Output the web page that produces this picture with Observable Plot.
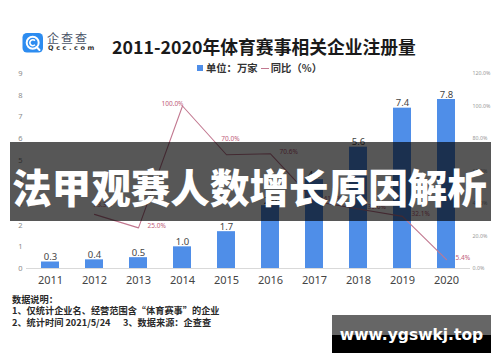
<!DOCTYPE html>
<html><head><meta charset="utf-8">
<script src="https://cdn.jsdelivr.net/npm/d3@7"></script>
<script src="https://cdn.jsdelivr.net/npm/@observablehq/plot@0.6"></script>
<style>
body{margin:0;background:#fff;}
#wrap{position:relative;width:500px;height:362px;overflow:hidden;font-family:"Noto Sans CJK SC","Noto Sans",sans-serif;background:#fff;}
#chart{position:absolute;left:0;top:0;}
.abs{position:absolute;white-space:nowrap;}
</style></head><body>
<div id="wrap">
  <div id="chart"></div>
  <!-- logo -->
  <svg class="abs" style="left:22px;top:33px" width="22" height="20" viewBox="0 0 22 20">
    <rect x="0.5" y="0" width="20.5" height="19.5" rx="4.5" fill="#2d8cf0"/>
    <circle cx="10.7" cy="9.7" r="6" fill="none" stroke="#fff" stroke-width="2"/>
    <path d="M13 7.6 A3 3 0 1 0 13 11.8" fill="none" stroke="#fff" stroke-width="1.6"/>
    <path d="M14.6 14 L17.5 17" stroke="#fff" stroke-width="2" stroke-linecap="round"/>
  </svg>
  <div class="abs" style="left:47px;top:31px;font-size:12px;line-height:13px;letter-spacing:2px;color:#4a5468;">企查查</div>
  <div class="abs" style="left:48px;top:44px;font-size:6.5px;line-height:8px;letter-spacing:2.6px;color:#333;font-family:'DejaVu Sans',sans-serif;font-weight:bold;">Qcc.com</div>
  <!-- title -->
  <div id="title" class="abs" style="left:112px;top:36px;font-size:17.8px;line-height:20px;font-weight:bold;color:#1a1a1a;"></div>
  <!-- legend -->
  <div class="abs" style="left:197px;top:61px;font-size:10.3px;line-height:13px;color:#333;font-weight:bold;">
    <span style="display:inline-block;width:6px;height:6px;background:#4f8ee8;margin-right:3px;vertical-align:1px;"></span><span id="leg1"></span>
    <span style="display:inline-block;width:8px;height:1.2px;background:#c27890;margin:0 2px 0 1px;vertical-align:3px;"></span><span id="leg2"></span>
  </div>
  <!-- notes -->
  <div id="notes" class="abs" style="left:12px;top:294px;font-size:9.2px;line-height:11.3px;color:#2a2a2a;font-weight:bold;"></div>
  <!-- banner -->
  <div class="abs" style="left:10px;top:142px;width:481px;height:79px;background:rgba(0,0,0,0.66);"></div>
  <div id="banner" class="abs" style="left:12px;top:165px;font-size:39.6px;line-height:42px;font-weight:900;color:#fff;"></div>
  <!-- watermark -->
  <div class="abs" style="left:332px;top:315px;width:159px;height:20px;background:#666;"></div>
  <div class="abs" style="left:332px;top:335px;width:159px;height:18px;background:#000;"></div>
  <div id="wm" class="abs" style="left:332px;top:325px;width:159px;text-align:center;font-size:15.5px;line-height:20px;font-weight:bold;color:#fff;font-family:'DejaVu Sans',sans-serif;"></div>
</div>
<script>
// ---- data ----
const years = ["2011","2012","2013","2014","2015","2016","2017","2018","2019","2020"];
const counts = [0.3, 0.4, 0.5, 1.0, 1.7, 2.9, 4.1, 5.6, 7.4, 7.8];
const growthYears = ["2012","2013","2014","2015","2016","2017","2018","2019","2020"];
const growth = [33.3, 25.0, 100.0, 70.0, 70.6, 41.4, 36.6, 32.1, 5.4];
const leftTicks = [0,1,2,3,4,5,6,7,8,9];
const rightTicks = [0,20,40,60,80,100,120];
const titleText = "2011-2020年体育赛事相关企业注册量";
const legendBar = "单位：万家";
const legendLine = "同比（%）";
const notesLines = ["数据说明：","1、仅统计企业名、经营范围含“体育赛事”的企业","2、统计时间 2021/5/24\u00a0\u00a0\u00a0\u00a0\u00a0\u00a03、数据来源：企查查"];
const bannerText = "法甲观赛人数增长原因解析";
const watermarkText = "www.ygswkj.top";

document.getElementById("title").textContent = titleText;
document.getElementById("leg1").textContent = legendBar;
document.getElementById("leg2").textContent = legendLine;
document.getElementById("notes").innerHTML = notesLines.map(s => s.replace(/&/g,"&amp;").replace(/</g,"&lt;")).join("<br>");
document.getElementById("banner").textContent = bannerText;
document.getElementById("wm").textContent = watermarkText;

const yMax = 9, pctMax = 120;
const toY = p => p * yMax / pctMax;
const barData = years.map((year, i) => ({year, value: counts[i]}));
const lineData = growthYears.map((year, i) => ({year, pct: growth[i], y: toY(growth[i])}));

// label placement groups (styling only)
const groupOf = d => d.year === "2012" ? "above" : d.year === "2014" ? "peak" : d.year === "2015" ? "top" : "right";
const lblStyle = {fontSize: 6.5, fill: "#c0607a", lineAnchor: "middle", text: d => d.pct.toFixed(1) + "%", x: "year", y: "y"};

const chart = Plot.plot({
  width: 500,
  height: 362,
  marginTop: 73,
  marginBottom: 94,
  marginLeft: 26,
  marginRight: 30,
  style: {fontFamily: "'Noto Sans', sans-serif", background: "transparent"},
  x: {type: "band", domain: years, paddingInner: 0.6, paddingOuter: 0.3},
  y: {domain: [0, yMax]},
  marks: [
    Plot.axisY({anchor: "left", ticks: leftTicks, tickSize: 0, tickPadding: 4, fontSize: 7.5, color: "#8a8a8a", label: null}),
    Plot.axisY({anchor: "right", ticks: rightTicks.map(toY), tickFormat: d => (d * pctMax / yMax).toFixed(1) + "%", tickSize: 0, tickPadding: 2, fontSize: 5.3, color: "#999", label: null}),
    Plot.axisX({tickSize: 0, tickPadding: 8, fontSize: 11, color: "#444", label: null}),
    Plot.ruleY([0], {stroke: "#d9d9d9"}),
    Plot.barY(barData, {x: "year", y: "value", fill: "#4f8ee8"}),
    Plot.text(barData, {x: "year", y: "value", text: d => d.value.toFixed(1), lineAnchor: "bottom", dy: -2, fontSize: 9.5, fill: "#444"}),
    Plot.line(lineData, {x: "year", y: "y", stroke: "#c27890", strokeWidth: 1.1}),
    Plot.text(lineData.filter(d => groupOf(d) === "right"), {...lblStyle, textAnchor: "start", dx: 9, dy: -2}),
    Plot.text(lineData.filter(d => groupOf(d) === "above"), {...lblStyle, textAnchor: "start", dx: -1, dy: -9}),
    Plot.text(lineData.filter(d => groupOf(d) === "peak"), {...lblStyle, textAnchor: "end", dx: 1, dy: -2}),
    Plot.text(lineData.filter(d => groupOf(d) === "top"), {...lblStyle, textAnchor: "middle", dx: 4, dy: -16})
  ]
});
document.getElementById("chart").appendChild(chart);
</script>
</body></html>
